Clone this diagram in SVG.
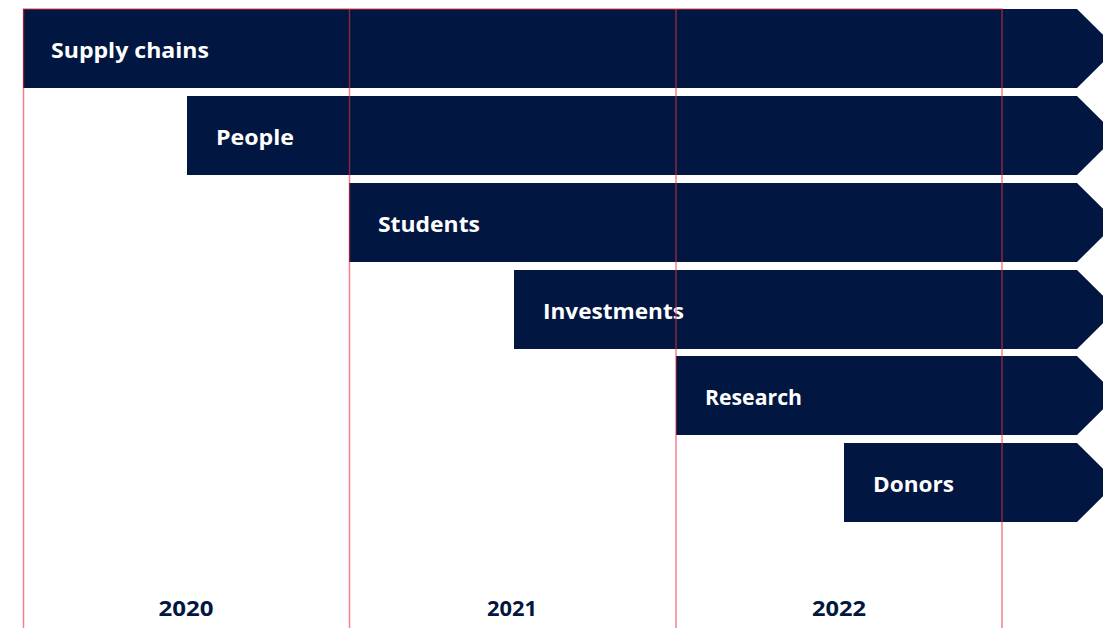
<svg xmlns="http://www.w3.org/2000/svg" width="1103" height="628" viewBox="0 0 1103 628">
<style>
.bar{fill:#011640}
.lbl{fill:#ffffff;font-family:"Open Sans","Liberation Sans",sans-serif;font-weight:700;font-size:21px}
.yr{fill:#011640;font-family:"Open Sans","Liberation Sans",sans-serif;font-weight:700;font-size:21px;text-anchor:middle}
.grid{stroke:#e8303f;stroke-opacity:0.6;stroke-width:1.5;fill:none}
</style>
<rect width="1103" height="628" fill="#ffffff"/>
<g id="supply-chains">
<path class="bar" d="M23 9H1077L1117 48.5L1077 88H23Z"/>
<text class="lbl" x="51" y="58" textLength="158" lengthAdjust="spacingAndGlyphs">Supply chains</text>
</g>
<g id="people">
<path class="bar" d="M187 96H1077L1117 135.5L1077 175H187Z"/>
<text class="lbl" x="216" y="145" textLength="78" lengthAdjust="spacingAndGlyphs">People</text>
</g>
<g id="students">
<path class="bar" d="M349 183H1077L1117 222.5L1077 262H349Z"/>
<text class="lbl" x="378" y="232" textLength="102" lengthAdjust="spacingAndGlyphs">Students</text>
</g>
<g id="investments">
<path class="bar" d="M514 270H1077L1117 309.5L1077 349H514Z"/>
<text class="lbl" x="543" y="319" textLength="141" lengthAdjust="spacingAndGlyphs">Investments</text>
</g>
<g id="research">
<path class="bar" d="M676 356H1077L1117 395.5L1077 435H676Z"/>
<text class="lbl" x="705" y="405" textLength="97" lengthAdjust="spacingAndGlyphs">Research</text>
</g>
<g id="donors">
<path class="bar" d="M844 443H1077L1117 482.5L1077 522H844Z"/>
<text class="lbl" x="873" y="492" textLength="81" lengthAdjust="spacingAndGlyphs">Donors</text>
</g>
<g id="years">
<text class="yr" x="186" y="616" textLength="55" lengthAdjust="spacingAndGlyphs">2020</text>
<text class="yr" x="512" y="616" textLength="50" lengthAdjust="spacingAndGlyphs">2021</text>
<text class="yr" x="839" y="616" textLength="54" lengthAdjust="spacingAndGlyphs">2022</text>
</g>
<g id="connectors" class="grid">
<path d="M23.5 640V9H1002V640"/>
<path d="M349.5 9V640"/>
<path d="M676 9V640"/>
</g>
</svg>
